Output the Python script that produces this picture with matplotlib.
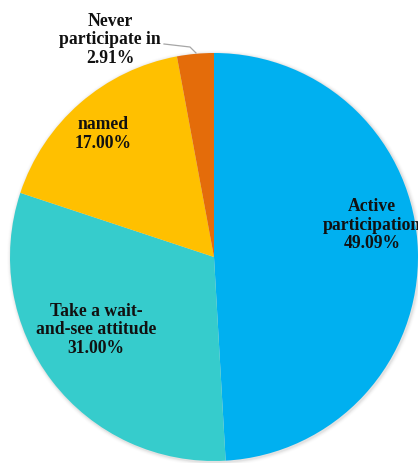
import matplotlib
matplotlib.use("Agg")
import matplotlib.pyplot as plt
from matplotlib.patches import Circle

# Survey shares (percent), drawn clockwise from 12 o'clock
categories = ["Active\nparticipation", "Take a wait-\nand-see attitude", "named", "Never\nparticipate in"]
shares = [49.09, 31.00, 17.00, 2.91]
colors = ["#00B0F0", "#36CCCC", "#FFC000", "#E46C0A"]

W, H = 418, 463
fig = plt.figure(figsize=(W / 100, H / 100), dpi=100)
ax = fig.add_axes([0, 0, 1, 1])

cx, cy, r = 214, H - 257, 204

# soft drop shadow around the pie
for k, a in zip(range(1, 5), [0.10, 0.07, 0.04, 0.02]):
    ax.add_patch(Circle((cx + 1, cy - 1), r + k, color="#808080", alpha=a, lw=0, zorder=0))

wedges, _ = ax.pie(shares, colors=colors, startangle=90, counterclock=False,
                   center=(cx, cy), radius=r, frame=True,
                   wedgeprops=dict(linewidth=0))
ax.set_xlim(0, W)
ax.set_ylim(0, H)
ax.set_aspect("equal")
ax.axis("off")

font = dict(family="Liberation Serif", weight="bold", size=12.7, color="#111111",
            ha="center", va="center", linespacing=1.1)

labels = [f"{c}\n{v:.2f}%" for c, v in zip(categories, shares)]
positions = [(372, H - 225), (96, H - 330), (103, H - 134), (110, H - 40)]
for text, (x, y) in zip(labels, positions):
    ax.text(x, y, text, **font)

# leader line for the small slice
ax.plot([164, 190, 196], [H - 44, H - 47, H - 53], color="#A6A6A6", lw=0.9)

fig.savefig("out.png", dpi=100)
